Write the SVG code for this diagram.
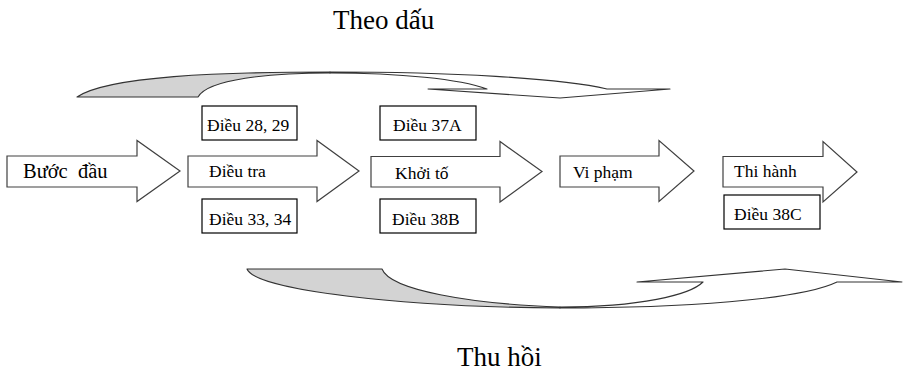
<svg xmlns="http://www.w3.org/2000/svg" width="903" height="375" viewBox="0 0 903 375">
<style>
.t{font-family:"Liberation Serif","Times New Roman",serif;fill:#000}
.arr{fill:#fff;stroke:#404040;stroke-width:1.2;stroke-linejoin:miter}
.box{fill:#fff;stroke:#000;stroke-width:1.2}
.cv{stroke:#333;stroke-width:1.1;stroke-linejoin:round}
.shade{fill:#d3d3d3}
.front{fill:#fff}
</style>
<text class="t" x="333" y="29" font-size="27">Theo dấu</text>
<text class="t" x="457" y="366" font-size="27">Thu hồi</text>
<g id="connectors">
<g id="top-curve">
<path class="cv shade" d="M77,97 C108,76 220,72 330,72 L330,73 C270,73 208,79 198,97 Z"/>
<path class="cv front" d="M330,72 C450,72 560,78 607,89 L670,89 L560,98 L428,89 L487,89 C460,79 400,73 330,73 Z"/>
</g>
<g id="bottom-curve">
<path class="cv shade" d="M247,269 L382,269 C390,290 470,304 560,307 L560,308 C400,307 255,290 247,269 Z"/>
<path class="cv front" d="M560,307 C640,307 690,295 703,282 L637,282 L785,269 L902,282 L837,282 C800,300 680,308 560,308 Z"/>
</g>
</g>
<g id="n-buocdau">
<path class="arr" d="M7,156 L137,156 L137,140.5 L180,171 L137,201.5 L137,187 L7,187 Z"/>
<text class="t" x="23" y="178" font-size="20.5">Bước&#160; đầu</text>
</g>
<g id="n-dieutra">
<path class="arr" d="M188,156 L317,156 L317,140.5 L359,171 L317,201.5 L317,187 L188,187 Z"/>
<text class="t" x="209" y="177" font-size="17.5">Điều tra</text>
</g>
<g id="n-khoito">
<path class="arr" d="M371,156.5 L500,156.5 L500,141.5 L542,171.5 L500,202 L500,187 L371,187 Z"/>
<text class="t" x="395" y="179" font-size="17.5">Khởi tố</text>
</g>
<g id="n-vipham">
<path class="arr" d="M560,156 L659,156 L659,140.5 L694,171 L659,201.5 L659,187 L560,187 Z"/>
<text class="t" x="573" y="178" font-size="17.5">Vi phạm</text>
</g>
<g id="n-thihanh">
<path class="arr" d="M723,156.5 L823,156.5 L823,141.5 L857,172 L823,202 L823,187 L723,187 Z"/>
<text class="t" x="734" y="177" font-size="17.5">Thi hành</text>
</g>
<g id="b-2829">
<rect class="box" x="202" y="106" width="95" height="34"/>
<text class="t" x="207" y="131" font-size="17.5">Điều 28, 29</text>
</g>
<g id="b-3334">
<rect class="box" x="202" y="199" width="95" height="34"/>
<text class="t" x="209" y="225" font-size="17.5">Điều 33, 34</text>
</g>
<g id="b-37a">
<rect class="box" x="380" y="106" width="96" height="34"/>
<text class="t" x="393" y="131" font-size="17.5">Điều 37A</text>
</g>
<g id="b-38b">
<rect class="box" x="380" y="199" width="96" height="34"/>
<text class="t" x="392" y="225" font-size="17.5">Điều 38B</text>
</g>
<g id="b-38c">
<rect class="box" x="724" y="195" width="96" height="34"/>
<text class="t" x="734" y="220" font-size="17.5">Điều 38C</text>
</g>
</svg>
